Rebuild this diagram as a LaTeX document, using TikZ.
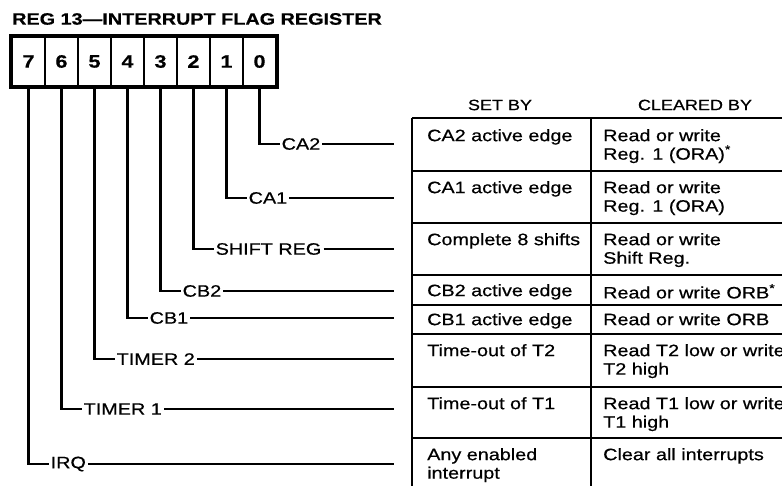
\documentclass[tikz,border=0pt]{standalone}
\usepackage{fontspec}
\setmainfont{Liberation Sans}[FakeStretch=1.2, FakeBold=0.6]
\usetikzlibrary{positioning}

\begin{document}
\begin{tikzpicture}[
		x=1pt, y=-1pt,
		font=\fontsize{16.5}{18.5}\selectfont,
		bitbox/.style={draw, line width=2.4pt, minimum width=33pt, minimum height=49pt, inner sep=0pt, font=\bfseries\fontsize{18}{19}\selectfont},
		wire/.style={line width=2.2pt},
		flag/.style={anchor=west, inner sep=2pt},
		rowline/.style={line width=1.6pt},
		hdr/.style={inner sep=0pt, font=\fontsize{15}{17}\selectfont},
		cell/.style={anchor=north west, inner sep=0pt, align=left}
		]
		\useasboundingbox (0,0) rectangle (782,486);
		\clip (0,0) rectangle (782,486);
		
		% =========================================================
		% 1. Register title and bit cells
		% =========================================================
		\node[anchor=west, inner sep=0pt, font=\bfseries\fontsize{16.5}{19}\selectfont] (Title) at (12,19) {REG 13—INTERRUPT FLAG REGISTER};
		
		\foreach \b in {0,...,7}
			\node[bitbox] (Bit\b) at ({28.5+33*(7-\b)}, 61.5) {\b};
		\draw[line width=3.8pt] (Bit7.north west) rectangle (Bit0.south east);
		
		% =========================================================
		% 2. Flag names
		% =========================================================
		\coordinate (LineEnd) at (394,0);
		
		\node[flag] (LblCA2) at (279.5,144) {CA2};
		\node[flag] (LblCA1) at (246.5,198) {CA1};
		\node[flag] (LblSR)  at (213.5,249) {SHIFT REG};
		\node[flag] (LblCB2) at (180.5,291) {CB2};
		\node[flag] (LblCB1) at (147.5,318) {CB1};
		\node[flag] (LblT2)  at (114.5,359) {TIMER 2};
		\node[flag] (LblT1)  at (81.5,409)  {TIMER 1};
		\node[flag] (LblIRQ) at (48.5,464)  {IRQ};
		
		\draw[wire] (Bit0.south) |- (LblCA2.west);
		\draw[wire] (Bit1.south) |- (LblCA1.west);
		\draw[wire] (Bit2.south) |- (LblSR.west);
		\draw[wire] (Bit3.south) |- (LblCB2.west);
		\draw[wire] (Bit4.south) |- (LblCB1.west);
		\draw[wire] (Bit5.south) |- (LblT2.west);
		\draw[wire] (Bit6.south) |- (LblT1.west);
		\draw[wire] (Bit7.south) |- (LblIRQ.west);
		
		\foreach \l in {LblCA2, LblCA1, LblSR, LblCB2, LblCB1, LblT2, LblT1, LblIRQ}
			\draw[wire] (\l.east) -- (\l.east -| LineEnd);
		
		% =========================================================
		% 3. Set by / cleared by table
		% =========================================================
		\node[hdr] (HdrSet) at (500,105) {SET BY};
		\node[hdr] (HdrClr) at (695,105) {CLEARED BY};
		
		\foreach \y in {118,171,223,275,305,334,387,438}
			\draw[rowline] (412,\y) -- (790,\y);
		\draw[rowline] (412,118) -- (412,490);
		\draw[rowline] (591,118) -- (591,490);
		
		\node[cell] (SetCA2) at (427,129) {CA2 active edge};
		\node[cell] (SetCA1) at (427,181) {CA1 active edge};
		\node[cell] (SetSR)  at (427,233) {Complete 8 shifts};
		\node[cell] (SetCB2) at (427,284) {CB2 active edge};
		\node[cell] (SetCB1) at (427,313) {CB1 active edge};
		\node[cell] (SetT2)  at (427,344) {Time-out of T2};
		\node[cell] (SetT1)  at (427,397) {Time-out of T1};
		\node[cell] (SetIRQ) at (427,448) {Any enabled\\interrupt};
		
		\node[cell] (ClrCA2) at (603,129) {Read or write\\Reg. 1 (ORA)\textsuperscript{*}};
		\node[cell] (ClrCA1) at (603,181) {Read or write\\Reg. 1 (ORA)};
		\node[cell] (ClrSR)  at (603,233) {Read or write\\Shift Reg.};
		\node[cell] (ClrCB2) at (603,284) {Read or write ORB\textsuperscript{*}};
		\node[cell] (ClrCB1) at (603,313) {Read or write ORB};
		\node[cell] (ClrT2)  at (603,344) {Read T2 low or write\\T2 high};
		\node[cell] (ClrT1)  at (603,397) {Read T1 low or write\\T1 high};
		\node[cell] (ClrIRQ) at (603,448) {Clear all interrupts};
	\end{tikzpicture}
\end{document}
